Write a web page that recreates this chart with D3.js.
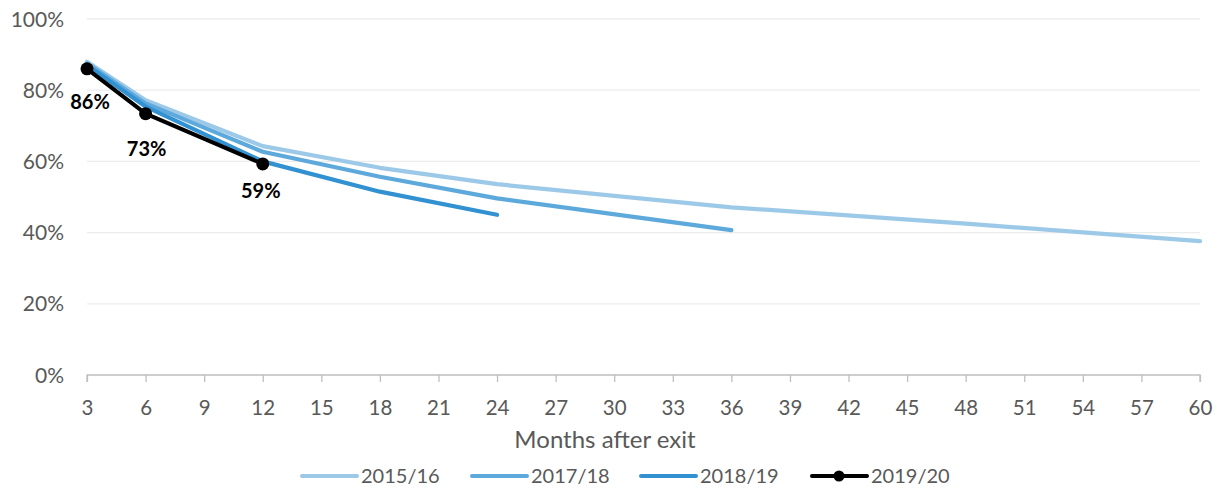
<!DOCTYPE html>
<html><head><meta charset="utf-8">
<script src="https://cdn.jsdelivr.net/npm/d3@7"></script>
<style>
body{margin:0;background:#fff;}
svg text{font-family:Lato,"Liberation Sans",sans-serif;}
</style></head>
<body><svg id="c" width="1219" height="490"></svg>
<script>
const months = [3,6,9,12,15,18,21,24,27,30,33,36,39,42,45,48,51,54,57,60];
const yTicks = [0,0.2,0.4,0.6,0.8,1.0];
const seriesNames = ["2015/16","2017/18","2018/19","2019/20"];
const monthsObserved = [3,6,12,18,24,36,48,60];
const s2015 = [0.88,0.772,0.643,0.582,0.536,0.471,0.425,0.376];
const s2017 = [0.875,0.763,0.627,0.557,0.496,0.407];
const s2018 = [0.87,0.754,0.60,0.515,0.45];
const s2019 = [0.86,0.734,0.593];
const seriesValues = [s2015,s2017,s2018,s2019];
const colors = ["#9dc9e9","#5ea9dc","#3292d1","#000000"];

const svg = d3.select("#c");
const x = d3.scalePoint().domain(months).range([87,1200]);
const y = d3.scaleLinear().domain([0,1]).range([375,19]);

// gridlines
svg.append("g").selectAll("line").data(yTicks.filter(d=>d>0)).join("line")
  .attr("x1",87).attr("x2",1200).attr("y1",d=>y(d)).attr("y2",d=>y(d))
  .attr("stroke","#ececec").attr("stroke-width",1.3);

// y axis labels
const yAxis = d3.axisLeft(y).tickValues(yTicks).tickFormat(d3.format(".0%")).tickSize(0).tickPadding(0);
const ga = svg.append("g").attr("transform","translate(64,0)").call(yAxis);
ga.select(".domain").remove();
ga.selectAll("text").attr("fill","#595959").style("font-size","21px").attr("dy","0.34em");

// x axis
const xAxis = d3.axisBottom(x).tickSize(7).tickPadding(18);
const gx = svg.append("g").attr("transform","translate(0,375)").call(xAxis);
gx.select(".domain").attr("stroke","#bfbfbf").attr("stroke-width",1.3).attr("d","M87,7V0H1200V7");
gx.selectAll(".tick line").attr("stroke","#bfbfbf").attr("stroke-width",1.3);
gx.selectAll("text").attr("fill","#595959").style("font-size","20.5px");

svg.append("text").attr("x",605).attr("y",448).attr("text-anchor","middle")
  .attr("fill","#595959").style("font-size","24px").text("Months after exit");

// lines
const line = d3.line().x(d=>x(d[0])).y(d=>y(d[1]));
seriesValues.forEach((vals,i)=>{
  const pts = vals.map((v,j)=>[monthsObserved[j],v]);
  svg.append("path").datum(pts).attr("d",line).attr("fill","none")
    .attr("stroke",colors[i]).attr("stroke-width",i===3?4:4.2)
    .attr("stroke-linejoin","round").attr("stroke-linecap","round");
});
const last = s2019.map((v,j)=>[monthsObserved[j],v]);
svg.append("g").selectAll("circle").data(last).join("circle")
  .attr("cx",d=>x(d[0])).attr("cy",d=>y(d[1])).attr("r",6.5).attr("fill","#000");
const labelDx = [3,1,-2];
const labelDy = [40,42,34];
svg.append("g").selectAll("text").data(last).join("text")
  .attr("x",(d,i)=>x(d[0])+labelDx[i]).attr("y",(d,i)=>y(d[1])+labelDy[i])
  .attr("text-anchor","middle").attr("font-weight","bold").style("font-size","20px")
  .attr("fill","#000").text(d=>d3.format(".0%")(d[1]));

// legend
const legX = [302,472,641,812];
const lg = svg.append("g");
seriesNames.forEach((n,i)=>{
  lg.append("line").attr("x1",legX[i]).attr("x2",legX[i]+55).attr("y1",476).attr("y2",476)
    .attr("stroke",colors[i]).attr("stroke-width",4).attr("stroke-linecap","round");
  if(i===3) lg.append("circle").attr("cx",legX[i]+27).attr("cy",476).attr("r",5.5).attr("fill","#000");
  lg.append("text").attr("x",legX[i]+59).attr("y",476).attr("dy","0.35em")
    .attr("fill","#595959").style("font-size","20px").text(n);
});
</script></body></html>
